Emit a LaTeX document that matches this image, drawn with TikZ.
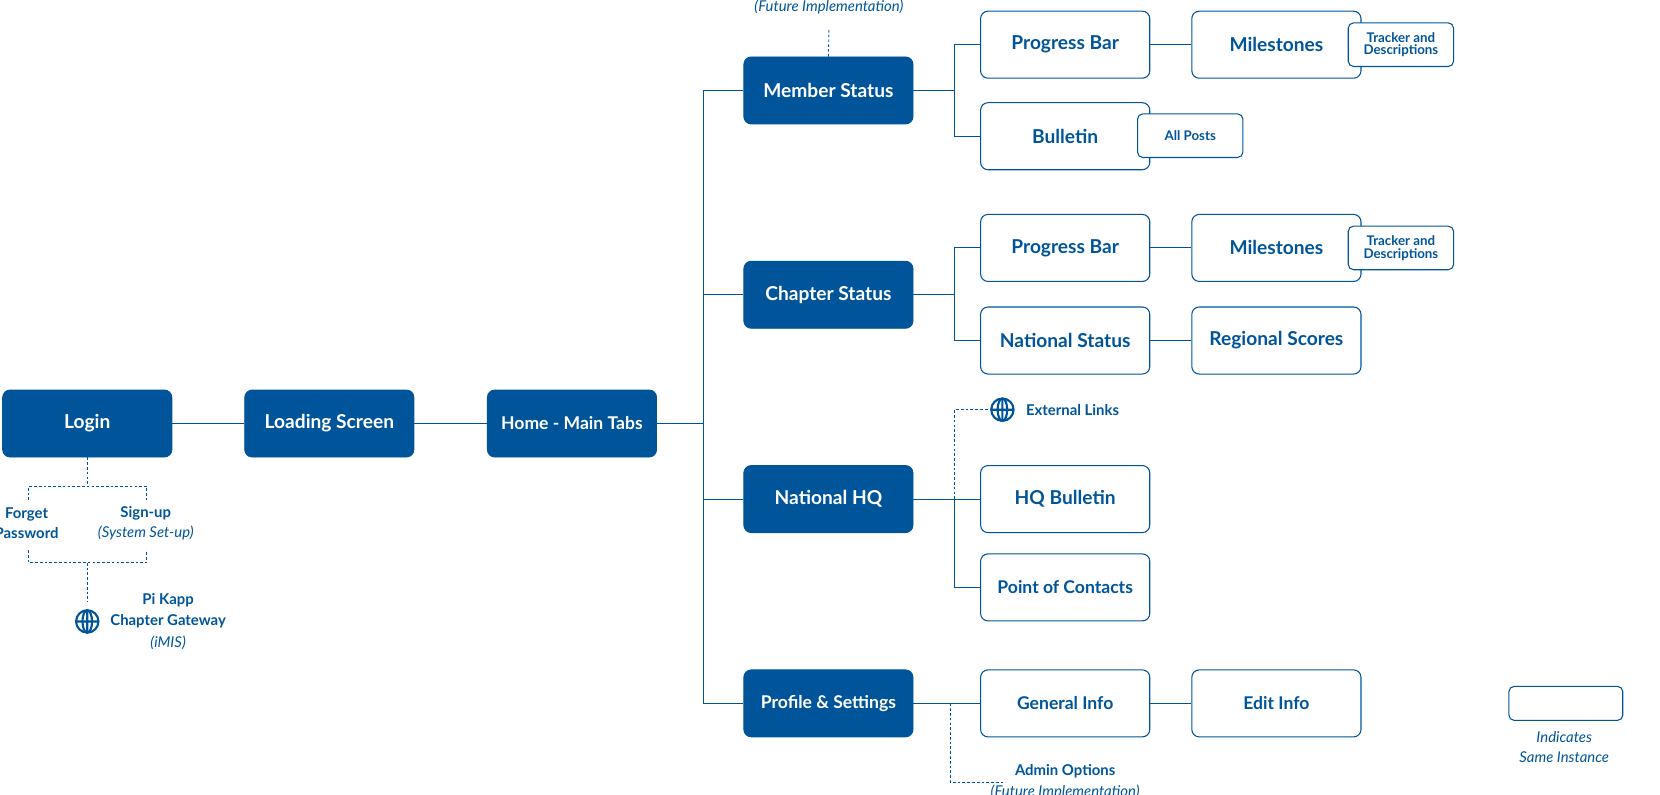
\documentclass[tikz,border=0pt]{standalone}
\usepackage{fontspec}
\setmainfont{Lato}
\definecolor{pk}{HTML}{00559A}
\begin{document}
\begin{tikzpicture}[x=1pt,y=-1pt,
 dark/.style={draw=pk,fill=pk,rounded corners=7pt,minimum width=159pt,minimum height=63pt,text=white,font=\fontsize{18}{20}\selectfont\bfseries,line width=0.8pt},
 lite/.style={draw=pk,fill=white,rounded corners=7pt,minimum width=159pt,minimum height=63pt,text=pk,font=\fontsize{18}{20}\selectfont\bfseries,line width=1pt},
 small/.style={draw=pk,fill=white,rounded corners=5pt,minimum width=99pt,minimum height=41pt,text=pk,align=center,font=\fontsize{12.5}{14}\selectfont\bfseries,line width=1pt},
 lab/.style={text=pk,align=center,font=\fontsize{14}{19}\selectfont\bfseries,inner sep=0},
 it/.style={text=pk,font=\fontsize{14}{19}\selectfont\itshape,inner sep=0},
 ln/.style={draw=pk,line width=1pt},
 dl/.style={draw=pk,line width=0.8pt,dash pattern=on 2.5pt off 2pt}]
\useasboundingbox (0,0) rectangle (1560,747);
\def\globe#1#2{\draw[pk,line width=2pt] (#1,#2) circle (10.5) (#1,#2-10.5) -- (#1,#2+10.5)++(0,0) (#1-10.5,#2) -- (#1+10.5,#2);
 \draw[pk,line width=2pt] (#1,#2) ellipse (4.5 and 10.5);}
% main row
\node[dark] (login) at (82,398) {Login};
\node[dark] (load) at (309.5,398) {Loading Screen};
\node[dark,font=\fontsize{16.5}{20}\selectfont\bfseries] (home) at (537.5,398) {Home - Main Tabs};
\node[dark] (mem) at (778.5,85) {Member Status};
\node[dark] (chap) at (778.5,277) {Chapter Status};
\node[dark] (nhq) at (778.5,469) {National HQ};
\node[dark,font=\fontsize{16.5}{20}\selectfont\bfseries] (prof) at (778.5,661) {Profile \& Settings};
\node[lite] (pb1) at (1001,42) {Progress Bar};
\node[lite] (bul) at (1001,128) {Bulletin};
\node[lite] (pb2) at (1001,233) {Progress Bar};
\node[lite] (nst) at (1001,320) {National Status};
\node[lite] (hqb) at (1001,469) {HQ Bulletin};
\node[lite,font=\fontsize{16.5}{20}\selectfont\bfseries] (poc) at (1001,552) {Point of Contacts};
\node[lite,font=\fontsize{16.5}{20}\selectfont\bfseries] (gen) at (1001,661) {General Info};
\node[lite] (mil1) at (1199.5,42) {Milestones};
\node[lite] (mil2) at (1199.5,233) {Milestones};
\node[lite] (reg) at (1199.5,320) {Regional Scores};
\node[lite,font=\fontsize{16.5}{20}\selectfont\bfseries] (edit) at (1199.5,661) {Edit Info};
\node[small] (tr1) at (1316.5,42) {Tracker and\\[-2pt]Descriptions};
\node[small] (tr2) at (1316.5,233) {Tracker and\\[-2pt]Descriptions};
\node[small,minimum width=99pt,minimum height=41pt] (allp) at (1118.5,127.5) {All Posts};
\node[small,minimum width=107pt,minimum height=32pt] (leg) at (1471.5,661) {};
\node[it,align=center] (legt) at (1470,702) {Indicates\\Same Instance};
% connectors
\draw[ln] (login) -- (load); \draw[ln] (load) -- (home);
\coordinate (t0) at (661,398);
\draw[ln] (home) -- (t0);
\draw[ln] (mem.west) -| (t0) |- (prof.west);
\draw[ln] (chap.west) -- (chap.west -| t0);
\draw[ln] (nhq.west) -- (nhq.west -| t0);
\coordinate (b1) at (897,85);
\draw[ln] (mem) -- (b1); \draw[ln] (pb1.west) -| (b1) |- (bul.west);
\coordinate (b2) at (897,277);
\draw[ln] (chap) -- (b2); \draw[ln] (pb2.west) -| (b2) |- (nst.west);
\draw[ln] (pb1) -- (mil1); \draw[ln] (pb2) -- (mil2); \draw[ln] (nst) -- (reg); \draw[ln] (gen) -- (edit);
\coordinate (b3) at (897,469);
\draw[ln] (nhq) -- (hqb); \draw[ln] (b3) |- (poc.west);
\node[lab,anchor=west] (ext) at (964,385) {External Links};
\coordinate (e1) at (897,385); \coordinate (e2) at (929,385);
\draw[dl] (b3) -- (e1) -- (e2);
\globe{942}{385}
\draw[ln] (prof) -- (gen);
\coordinate (a0) at (893,661); \coordinate (a1) at (893,735); \coordinate (a2) at (945,735);
\draw[dl] (a0) -- (a1) -- (a2);
\node[lab] (adm) at (1001,725) {Admin Options};
\node[it] (admf) at (1001,744) {(Future Implementation)};
\node[it] (memf) at (779,7) {(Future Implementation)};
\coordinate (m1) at (779,28);
\draw[dl] (mem.north) -- (m1);
% login tree
\coordinate (l1) at (82,457); \coordinate (l2) at (27,457); \coordinate (l3) at (138,457);
\draw[dl] (login.south) -- (l1) (27,470) -- (l2) -- (l3) -- (138,470);
\draw[dl] (27,517) -- (27,529) -- (138,529) -- (138,517) (82,529) -- (82,566);
\node[lab] (fp) at (25,492) {Forget\\Password};
\node[lab] (su) at (137,482) {Sign-up};
\node[it] (sus) at (137,501) {(System Set-up)};
\globe{82}{584}
\node[lab] (pk) at (158,574) {Pi Kapp\\Chapter Gateway};
\node[it] (imis) at (158,604) {(iMIS)};
\end{tikzpicture}
\end{document}
